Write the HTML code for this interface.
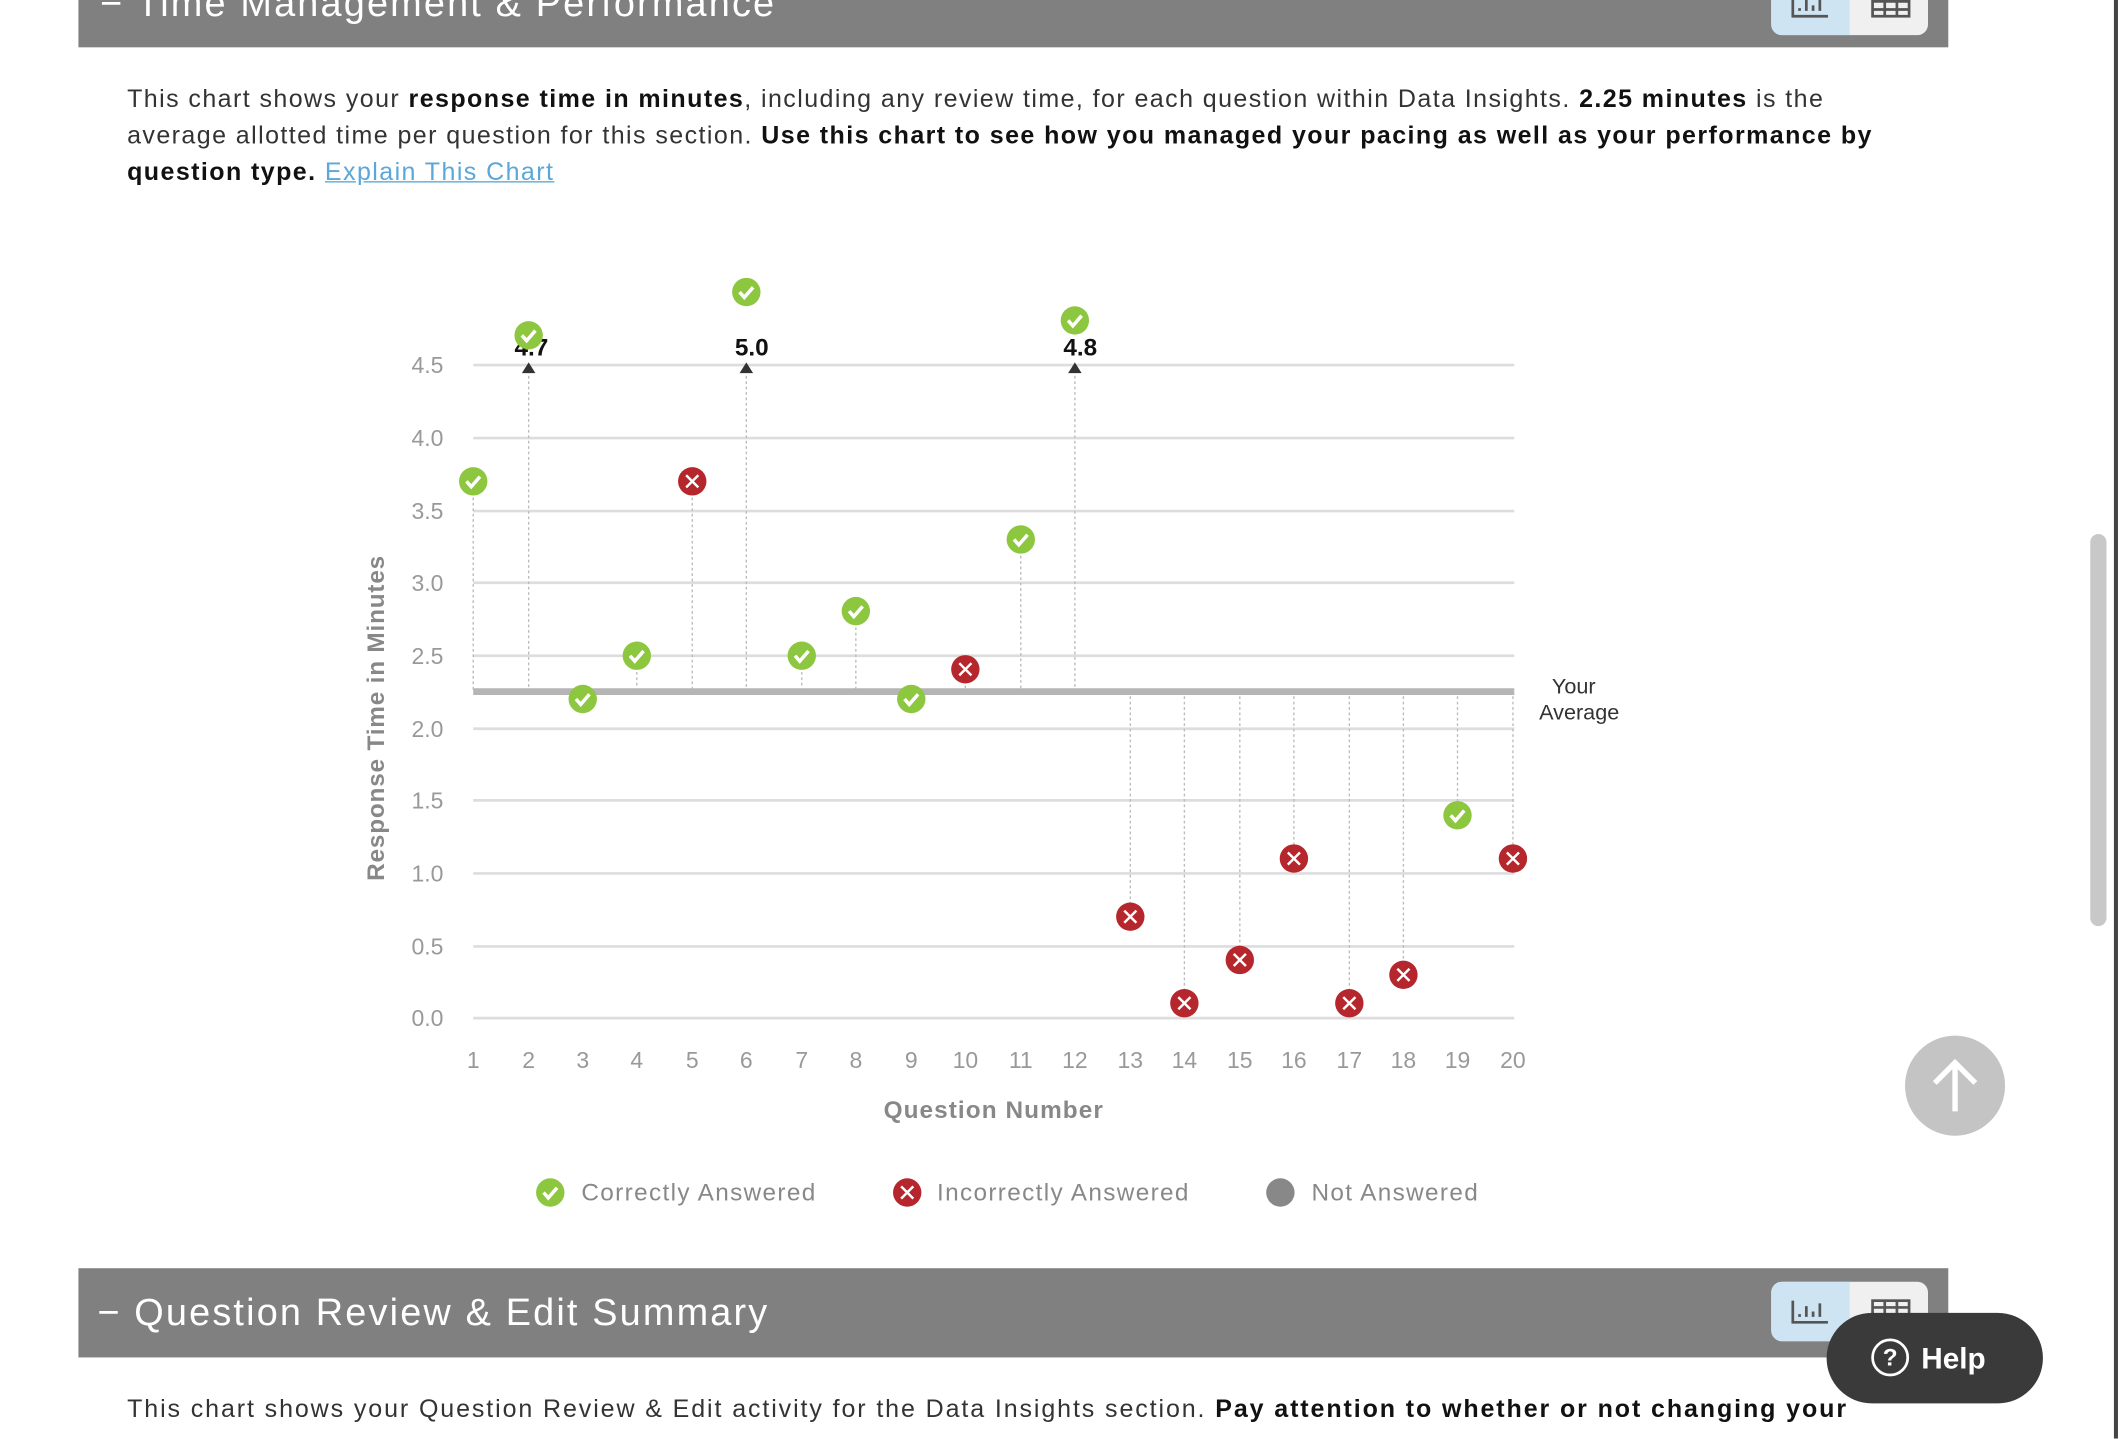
<!DOCTYPE html>
<html><head><meta charset="utf-8"><style>
html,body{margin:0;padding:0;background:#fff;overflow:hidden;width:2120px;height:1438px}
#w{position:absolute;left:0;top:0;width:1568px;height:1064px;transform:scale(1.35204);transform-origin:0 0;font-family:"Liberation Sans",sans-serif;background:#fff}
.bar{position:absolute;left:58px;width:1383px;background:#808080;color:#fff}
.bar span{letter-spacing:1.6px;font-size:28px}
.p{position:absolute;left:94px;font-size:18.5px;line-height:27px;color:#333;white-space:nowrap;letter-spacing:1.05px}
.p b{color:#111}
.tog{position:absolute;width:116px;height:44px;border-radius:8px;background:#f0f0f0;overflow:hidden}
.tog i{position:absolute;left:0;top:0;width:58px;height:44px;background:#cfe4f2}
</style></head><body><div id="w">
<div class="bar" style="top:-30px;height:65px"><span style="position:absolute;left:16px;top:17px;">− Time Management &amp; Performance</span></div>
<div class="tog" style="left:1310px;top:-18px"><i></i>
<svg style="position:absolute;left:0;top:0" width="116" height="44"><g stroke="#555" stroke-width="2" fill="none"><path d="M16,14 V30 H42 M21,26V24 M26,26V18 M31,26V22 M36,26V16"/><rect x="75" y="14" width="27" height="16"/><path d="M75,19H102 M75,25H102 M84,14V30 M93,14V30"/></g></svg></div>
<div class="p" style="top:59px">This chart shows your <b>response time in minutes</b>, including any review time, for each question within Data Insights. <b>2.25 minutes</b> is the<br>average allotted time per question for this section. <b>Use this chart to see how you managed your pacing as well as your performance by</b><br><b>question type.</b> <span style="color:#5aa7d8;text-decoration:underline">Explain This Chart</span></div>
<svg style="position:absolute;left:0;top:0" width="1568" height="1064" font-family="Liberation Sans, sans-serif">
<defs>
<g id="g"><circle r="10.5" fill="#8dc63f"/><path d="M-5,0 L-1.5,4 L5,-3.5" stroke="#fff" stroke-width="2.6" fill="none"/></g>
<g id="r"><circle r="10.5" fill="#b5272d"/><path d="M-4.5,-4.5 L4.5,4.5 M4.5,-4.5 L-4.5,4.5" stroke="#fff" stroke-width="1.8"/></g>
</defs>
<g stroke="#ddd" stroke-width="2">
<line x1="350" x2="1120" y1="270" y2="270"/><line x1="350" x2="1120" y1="324" y2="324"/><line x1="350" x2="1120" y1="378" y2="378"/><line x1="350" x2="1120" y1="431" y2="431"/><line x1="350" x2="1120" y1="485" y2="485"/><line x1="350" x2="1120" y1="539" y2="539"/><line x1="350" x2="1120" y1="592" y2="592"/><line x1="350" x2="1120" y1="646" y2="646"/><line x1="350" x2="1120" y1="700" y2="700"/><line x1="350" x2="1120" y1="753" y2="753"/>
</g>
<g font-size="17" fill="#999" text-anchor="end">
<text x="328" y="276">4.5</text><text x="328" y="330">4.0</text><text x="328" y="384">3.5</text><text x="328" y="437">3.0</text><text x="328" y="491">2.5</text><text x="328" y="545">2.0</text><text x="328" y="598">1.5</text><text x="328" y="652">1.0</text><text x="328" y="706">0.5</text><text x="328" y="759">0.0</text>
</g>
<g font-size="17" fill="#999" text-anchor="middle">
<text x="350" y="790">1</text><text x="391" y="790">2</text><text x="431" y="790">3</text><text x="471" y="790">4</text><text x="512" y="790">5</text><text x="552" y="790">6</text><text x="593" y="790">7</text><text x="633" y="790">8</text><text x="674" y="790">9</text><text x="714" y="790">10</text><text x="755" y="790">11</text><text x="795" y="790">12</text><text x="836" y="790">13</text><text x="876" y="790">14</text><text x="917" y="790">15</text><text x="957" y="790">16</text><text x="998" y="790">17</text><text x="1038" y="790">18</text><text x="1078" y="790">19</text><text x="1119" y="790">20</text>
</g>
<text x="735" y="827" font-size="18" font-weight="bold" fill="#888" text-anchor="middle" letter-spacing="0.8">Question Number</text>
<text transform="translate(284,531) rotate(-90)" font-size="18" font-weight="bold" fill="#888" text-anchor="middle" letter-spacing="0.6">Response Time in Minutes</text>
<g stroke="#bbb" stroke-width="1" stroke-dasharray="2,2">
<line x1="350" x2="350" y1="356" y2="511"/><line x1="391" x2="391" y1="270" y2="511"/><line x1="471" x2="471" y1="485" y2="511"/><line x1="512" x2="512" y1="356" y2="511"/><line x1="552" x2="552" y1="270" y2="511"/><line x1="593" x2="593" y1="485" y2="511"/><line x1="633" x2="633" y1="452" y2="511"/><line x1="714" x2="714" y1="495" y2="511"/><line x1="755" x2="755" y1="399" y2="511"/><line x1="795" x2="795" y1="270" y2="511"/>
<line x1="836" x2="836" y1="511" y2="678"/><line x1="876" x2="876" y1="511" y2="742"/><line x1="917" x2="917" y1="511" y2="710"/><line x1="957" x2="957" y1="511" y2="635"/><line x1="998" x2="998" y1="511" y2="742"/><line x1="1038" x2="1038" y1="511" y2="721"/><line x1="1078" x2="1078" y1="511" y2="603"/><line x1="1119" x2="1119" y1="511" y2="635"/>
</g>
<line x1="350" x2="1120" y1="511.5" y2="511.5" stroke="#b5b5b5" stroke-width="5"/>
<text x="1164" y="513" font-size="16" fill="#333" text-anchor="middle">Your</text>
<text x="1168" y="532" font-size="16" fill="#333" text-anchor="middle">Average</text>
<g fill="#333"><path d="M386,276 L391,268 L396,276Z"/><path d="M547,276 L552,268 L557,276Z"/><path d="M790,276 L795,268 L800,276Z"/></g>
<g font-size="18" font-weight="bold" fill="#111" text-anchor="middle"><text x="393" y="263">4.7</text><text x="556" y="263">5.0</text><text x="799" y="263">4.8</text></g>
<use href="#g" x="350" y="356"/><use href="#g" x="391" y="248"/><use href="#g" x="431" y="517"/><use href="#g" x="471" y="485"/><use href="#r" x="512" y="356"/><use href="#g" x="552" y="216"/><use href="#g" x="593" y="485"/><use href="#g" x="633" y="452"/><use href="#g" x="674" y="517"/><use href="#r" x="714" y="495"/><use href="#g" x="755" y="399"/><use href="#g" x="795" y="237"/><use href="#r" x="836" y="678"/><use href="#r" x="876" y="742"/><use href="#r" x="917" y="710"/><use href="#r" x="957" y="635"/><use href="#r" x="998" y="742"/><use href="#r" x="1038" y="721"/><use href="#g" x="1078" y="603"/><use href="#r" x="1119" y="635"/>
<g font-size="18" fill="#888" letter-spacing="1">
<use href="#g" x="407" y="882"/><text x="430" y="888">Correctly Answered</text>
<use href="#r" x="671" y="882"/><text x="693" y="888">Incorrectly Answered</text>
<circle cx="947" cy="882" r="10.5" fill="#888"/><text x="970" y="888">Not Answered</text></g>
<circle cx="1446" cy="803" r="37" fill="#c4c4c4"/><path d="M1446,822 V786 M1431,801 L1446,786 L1461,801" stroke="#fff" stroke-width="4" fill="none"/>
<rect x="1546" y="395" width="12" height="290" rx="6" fill="#c8c8c8"/>
<line x1="1565" y1="0" x2="1565" y2="1064" stroke="#444" stroke-width="3"/>
</svg>
<div class="bar" style="top:938px;height:66px"><span style="position:absolute;left:14px;top:17px;">− Question Review &amp; Edit Summary</span></div>
<div class="tog" style="left:1310px;top:948px"><i></i>
<svg style="position:absolute;left:0;top:0" width="116" height="44"><g stroke="#555" stroke-width="2" fill="none"><path d="M16,14 V30 H42 M21,26V24 M26,26V18 M31,26V22 M36,26V16"/><rect x="75" y="14" width="27" height="16"/><path d="M75,19H102 M75,25H102 M84,14V30 M93,14V30"/></g></svg></div>
<div style="position:absolute;left:1351px;top:971px;width:160px;height:67px;border-radius:34px;background:#3a3a3a;color:#fff;font-size:22px;font-weight:bold"><span style="position:absolute;left:33px;top:19px;width:24px;height:24px;border:2.5px solid #fff;border-radius:50%;text-align:center;font-size:18px;line-height:24px">?</span><span style="position:absolute;left:70px;top:21px">Help</span></div>
<div class="p" style="top:1028px;letter-spacing:1.4px">This chart shows your Question Review &amp; Edit activity for the Data Insights section. <b>Pay attention to whether or not changing your</b></div>
</div></body></html>
